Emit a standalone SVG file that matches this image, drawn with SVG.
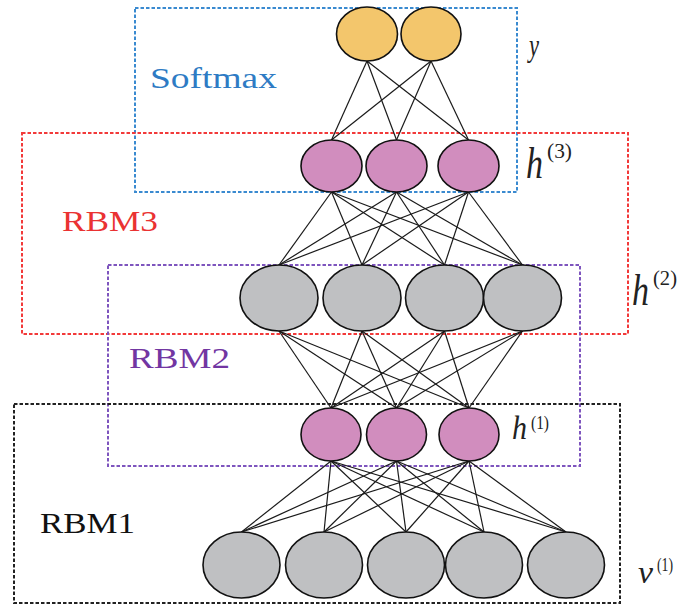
<svg xmlns="http://www.w3.org/2000/svg" width="677" height="605" viewBox="0 0 677 605">
<style>
.box{fill:none;stroke-width:2;stroke-dasharray:3.5,2}
.e line{stroke:#1a1a1a;stroke-width:1.2}
.n{stroke:#111;stroke-width:1.6}
.yel{fill:#F3C66C}
.pink{fill:#D18DBE}
.gray{fill:#BFC0C2}
.lbl{font-family:"Liberation Serif","Times New Roman",serif}
.m{font-family:"Liberation Serif","Times New Roman",serif;fill:#222}
</style>
<rect width="677" height="605" fill="#fff"/>
<g id="boxes">
<rect id="box-softmax" class="box" x="135" y="8" width="382" height="184" stroke="#3A8AD0"/>
<rect id="box-rbm3" class="box" x="22" y="133" width="606" height="201" stroke="#F23A3A"/>
<rect id="box-rbm2" class="box" x="108" y="265" width="472" height="201" stroke="#7E55BE"/>
<rect id="box-rbm1" class="box" x="14" y="404" width="606" height="199" stroke="#222"/>
</g>
<g id="connectors" class="e">
<line x1="367" y1="61" x2="331.5" y2="140"/><line x1="367" y1="61" x2="396.5" y2="140"/><line x1="367" y1="61" x2="468.5" y2="140"/>
<line x1="431" y1="61" x2="331.5" y2="140"/><line x1="431" y1="61" x2="396.5" y2="140"/><line x1="431" y1="61" x2="468.5" y2="140"/>
<line x1="331.5" y1="192" x2="279" y2="265"/><line x1="331.5" y1="192" x2="362" y2="265"/><line x1="331.5" y1="192" x2="444.5" y2="265"/><line x1="331.5" y1="192" x2="522.5" y2="265"/>
<line x1="396.5" y1="192" x2="279" y2="265"/><line x1="396.5" y1="192" x2="362" y2="265"/><line x1="396.5" y1="192" x2="444.5" y2="265"/><line x1="396.5" y1="192" x2="522.5" y2="265"/>
<line x1="468.5" y1="192" x2="279" y2="265"/><line x1="468.5" y1="192" x2="362" y2="265"/><line x1="468.5" y1="192" x2="444.5" y2="265"/><line x1="468.5" y1="192" x2="522.5" y2="265"/>
<line x1="279" y1="331" x2="331" y2="408"/><line x1="279" y1="331" x2="396.5" y2="408"/><line x1="279" y1="331" x2="469" y2="408"/>
<line x1="362" y1="331" x2="331" y2="408"/><line x1="362" y1="331" x2="396.5" y2="408"/><line x1="362" y1="331" x2="469" y2="408"/>
<line x1="444.5" y1="331" x2="331" y2="408"/><line x1="444.5" y1="331" x2="396.5" y2="408"/><line x1="444.5" y1="331" x2="469" y2="408"/>
<line x1="522.5" y1="331" x2="331" y2="408"/><line x1="522.5" y1="331" x2="396.5" y2="408"/><line x1="522.5" y1="331" x2="469" y2="408"/>
<line x1="331" y1="461" x2="241.5" y2="532"/><line x1="331" y1="461" x2="324" y2="532"/><line x1="331" y1="461" x2="406" y2="532"/><line x1="331" y1="461" x2="484" y2="532"/><line x1="331" y1="461" x2="566" y2="532"/>
<line x1="396.5" y1="461" x2="241.5" y2="532"/><line x1="396.5" y1="461" x2="324" y2="532"/><line x1="396.5" y1="461" x2="406" y2="532"/><line x1="396.5" y1="461" x2="484" y2="532"/><line x1="396.5" y1="461" x2="566" y2="532"/>
<line x1="469" y1="461" x2="241.5" y2="532"/><line x1="469" y1="461" x2="324" y2="532"/><line x1="469" y1="461" x2="406" y2="532"/><line x1="469" y1="461" x2="484" y2="532"/><line x1="469" y1="461" x2="566" y2="532"/>
</g>
<g id="layer-y">
<ellipse id="y1" class="n yel" cx="367" cy="34" rx="30.5" ry="27"/>
<ellipse id="y2" class="n yel" cx="431" cy="34" rx="30" ry="27"/>
</g>
<g id="layer-h3">
<ellipse id="h3-1" class="n pink" cx="331.5" cy="166" rx="30.5" ry="26"/>
<ellipse id="h3-2" class="n pink" cx="396.5" cy="166" rx="30.5" ry="26"/>
<ellipse id="h3-3" class="n pink" cx="468.5" cy="166" rx="30.5" ry="26"/>
</g>
<g id="layer-h2">
<ellipse id="h2-1" class="n gray" cx="279" cy="298" rx="39" ry="33"/>
<ellipse id="h2-2" class="n gray" cx="362" cy="298" rx="39" ry="33"/>
<ellipse id="h2-3" class="n gray" cx="444.5" cy="298" rx="39" ry="33"/>
<ellipse id="h2-4" class="n gray" cx="522.5" cy="298" rx="39" ry="33"/>
</g>
<g id="layer-h1">
<ellipse id="h1-1" class="n pink" cx="331" cy="434.5" rx="30" ry="26.5"/>
<ellipse id="h1-2" class="n pink" cx="396.5" cy="434.5" rx="30" ry="26.5"/>
<ellipse id="h1-3" class="n pink" cx="469" cy="434.5" rx="30" ry="26.5"/>
</g>
<g id="layer-v">
<ellipse id="v1" class="n gray" cx="241.5" cy="565" rx="38.5" ry="33"/>
<ellipse id="v2" class="n gray" cx="324" cy="565" rx="38.5" ry="33"/>
<ellipse id="v3" class="n gray" cx="406" cy="565" rx="38.5" ry="33"/>
<ellipse id="v4" class="n gray" cx="484" cy="565" rx="38.5" ry="33"/>
<ellipse id="v5" class="n gray" cx="566" cy="565" rx="38.5" ry="33"/>
</g>
<g id="labels">
<text class="lbl" x="150" y="88" font-size="29" fill="#2E7BC4" textLength="127" lengthAdjust="spacingAndGlyphs">Softmax</text>
<text class="lbl" x="62" y="231" font-size="29" fill="#EA3232" textLength="96" lengthAdjust="spacingAndGlyphs">RBM3</text>
<text class="lbl" x="129" y="368" font-size="29" fill="#7236A2" textLength="101" lengthAdjust="spacingAndGlyphs">RBM2</text>
<text class="lbl" x="40" y="533" font-size="29" fill="#111" textLength="95" lengthAdjust="spacingAndGlyphs">RBM1</text>
<text class="m" x="529" y="56" font-size="32" font-style="italic" fill="#777" textLength="10" lengthAdjust="spacingAndGlyphs">y</text>
<text class="m" x="526" y="178" font-size="44" font-style="italic" textLength="17" lengthAdjust="spacingAndGlyphs">h</text>
<text class="m" x="547" y="158" font-size="20" textLength="25" lengthAdjust="spacingAndGlyphs">(3)</text>
<text class="m" x="632" y="305" font-size="44" font-style="italic" textLength="17" lengthAdjust="spacingAndGlyphs">h</text>
<text class="m" x="653" y="285" font-size="20" textLength="24" lengthAdjust="spacingAndGlyphs">(2)</text>
<text class="m" x="512" y="439" font-size="34" font-style="italic" textLength="15" lengthAdjust="spacingAndGlyphs">h</text>
<text class="m" x="531" y="429" font-size="19" textLength="18" lengthAdjust="spacingAndGlyphs">(1)</text>
<text class="m" x="638" y="583" font-size="32" font-style="italic" textLength="15" lengthAdjust="spacingAndGlyphs">v</text>
<text class="m" x="657" y="571" font-size="18" textLength="16" lengthAdjust="spacingAndGlyphs">(1)</text>
</g>
</svg>
